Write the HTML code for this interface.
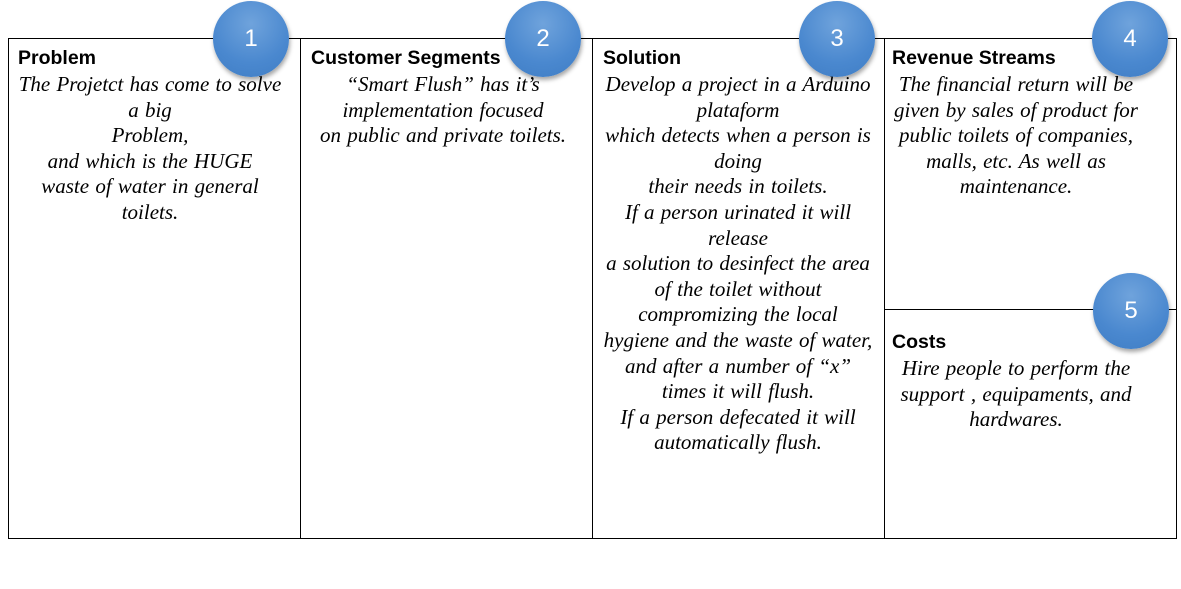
<!DOCTYPE html>
<html><head><meta charset="utf-8"><style>
body{margin:0;width:1181px;height:589px;background:#fff;position:relative;overflow:hidden}
.b{position:absolute;border:1px solid #000;box-sizing:border-box}
.t{position:absolute;font-family:"Liberation Sans",sans-serif;font-weight:bold;font-size:19.5px;color:#000;line-height:24px}
.x{position:absolute;font-family:"Liberation Serif",serif;font-style:italic;font-size:21px;word-spacing:1px;line-height:25.6px;text-align:center;color:#000;white-space:nowrap}
.c{position:absolute;width:76px;height:76px;border-radius:50%;background:radial-gradient(circle at 50% 30%,#6fa3dc,#4a88cf 60%,#3f7dc4);box-shadow:1px 3px 4px rgba(0,0,0,.35);color:#fff;font-family:"Liberation Sans",sans-serif;font-size:24px;text-align:center;line-height:76px}
</style></head><body>
<div class="b" style="left:8px;top:38px;width:1169px;height:501px"></div>
<div class="b" style="left:300px;top:38px;width:1px;height:501px;border-width:0 0 0 1px"></div>
<div class="b" style="left:592px;top:38px;width:1px;height:501px;border-width:0 0 0 1px"></div>
<div class="b" style="left:884px;top:38px;width:1px;height:501px;border-width:0 0 0 1px"></div>
<div class="b" style="left:884px;top:309px;width:293px;height:1px;border-width:1px 0 0 0"></div>

<div class="t" style="left:18px;top:46px">Problem</div>
<div class="t" style="left:311px;top:46px">Customer Segments</div>
<div class="t" style="left:603px;top:46px">Solution</div>
<div class="t" style="left:892px;top:46px">Revenue Streams</div>
<div class="t" style="left:892px;top:330px">Costs</div>

<div class="x" style="left:4px;width:292px;top:72px">The Projetct has come to solve<br>a big<br>Problem,<br>and which is the HUGE<br>waste of water in general<br>toilets.</div>
<div class="x" style="left:297px;width:292px;top:72px">“Smart Flush” has it’s<br>implementation focused<br>on public and private toilets.</div>
<div class="x" style="left:592px;width:292px;top:72px">Develop a project in a Arduino<br>plataform<br>which detects when a person is<br>doing<br>their needs in toilets.<br>If a person urinated it will<br>release<br>a solution to desinfect the area<br>of the toilet without<br>compromizing the local<br>hygiene and the waste of water,<br>and after a number of “x”<br>times it will flush.<br>If a person defecated it will<br>automatically flush.</div>
<div class="x" style="left:870px;width:292px;top:72px">The financial return will be<br>given by sales of product for<br>public toilets of companies,<br>malls, etc. As well as<br>maintenance.</div>
<div class="x" style="left:870px;width:292px;top:356px">Hire people to perform the<br>support , equipaments, and<br>hardwares.</div>

<div class="c" style="left:213px;top:1px">1</div>
<div class="c" style="left:505px;top:1px">2</div>
<div class="c" style="left:799px;top:1px">3</div>
<div class="c" style="left:1092px;top:1px">4</div>
<div class="c" style="left:1093px;top:273px">5</div>
</body></html>
